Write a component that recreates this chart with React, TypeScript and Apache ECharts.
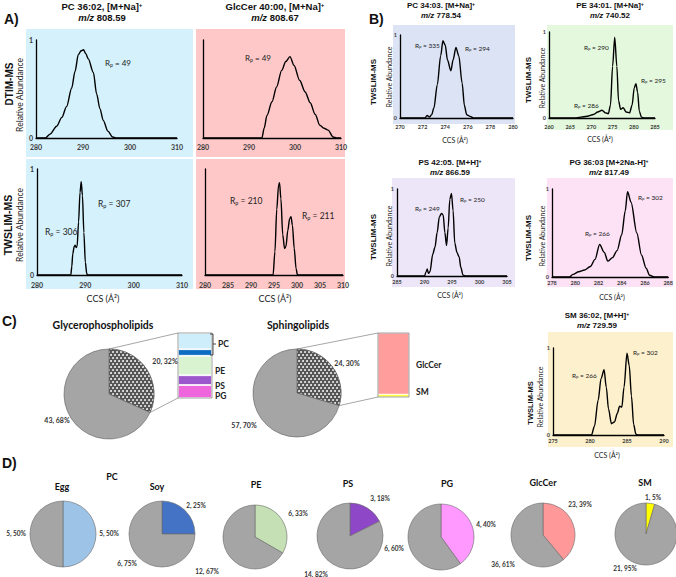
import { useEffect, useRef } from "react";
import * as echarts from "echarts";

type Pt = [number, number];

// ---------------- data ----------------
// Panel A (x = CCS Å², y = relative abundance)
const dtimPC: Pt[] = [[280,0],[282,0],[283,0.04],[284.4,0.12],[285.5,0.21],[286.5,0.32],[287.6,0.51],[288.3,0.68],[289,0.85],[289.6,0.89],[290.1,0.9],[290.6,0.86],[291.1,0.81],[292.2,0.67],[292.9,0.45],[293.6,0.3],[294.3,0.18],[295.3,0.07],[296.3,0.01],[297,0],[310,0]];
const dtimGlc: Pt[] = [[280,0],[292.8,0],[293.3,0.1],[293.9,0.23],[295,0.37],[296,0.52],[297.1,0.69],[298,0.78],[298.9,0.83],[299.8,0.74],[301,0.59],[302.2,0.47],[303.3,0.36],[304.4,0.24],[305.4,0.13],[306.3,0.1],[307.2,0.08],[308.3,0.01],[309,0],[310,0]];
const twPC: Pt[] = [[280,0],[287,0],[287.2,0.08],[287.4,0.2],[287.7,0.27],[287.9,0.28],[288.1,0.26],[288.3,0.27],[288.6,0.5],[288.9,0.78],[289.15,0.88],[289.4,0.75],[289.7,0.4],[290,0.12],[290.3,0.01],[290.6,0],[310,0]];
const twGlc: Pt[] = [[280,0],[294.8,0],[295.2,0.22],[295.6,0.62],[296,0.85],[296.2,0.87],[296.5,0.72],[296.9,0.38],[297.3,0.25],[297.6,0.27],[298,0.42],[298.4,0.53],[298.7,0.55],[299,0.47],[299.4,0.25],[299.8,0.06],[300.1,0],[310,0]];
// Panel B
const bPC: Pt[] = [[270,0],[272.2,0],[272.4,0.03],[272.6,0.01],[272.8,0.04],[273,0.12],[273.3,0.4],[273.6,0.75],[273.8,0.93],[274,0.88],[274.2,0.7],[274.5,0.57],[274.7,0.7],[274.95,0.85],[275.2,0.75],[275.5,0.42],[275.7,0.15],[275.9,0.04],[276.2,0.02],[276.5,0],[280,0]];
const bPE: Pt[] = [[260,0],[266,0],[267.5,0.01],[269,0.02],[270.5,0.04],[271.5,0.07],[272.5,0.09],[273.3,0.06],[274,0.05],[274.5,0.15],[275,0.6],[275.5,0.94],[276,0.6],[276.4,0.2],[276.9,0.1],[277.5,0.12],[278.2,0.07],[279,0.06],[279.6,0.15],[280.1,0.35],[280.5,0.4],[280.9,0.3],[281.3,0.08],[281.8,0.01],[282.5,0],[285,0]];
const bPS: Pt[] = [[285,0],[290,0],[290.3,0.05],[290.5,0.08],[290.7,0.03],[291,0.05],[291.5,0.25],[291.9,0.33],[292.3,0.5],[292.7,0.68],[293.1,0.72],[293.4,0.7],[293.7,0.5],[294,0.35],[294.3,0.55],[294.6,0.88],[294.9,0.95],[295.2,0.75],[295.5,0.38],[295.9,0.27],[296.3,0.22],[296.6,0.1],[297,0.01],[297.5,0],[305,0]];
const bPG: Pt[] = [[278,0],[279.5,0],[279.8,0.03],[280.3,0.06],[280.8,0.08],[281.3,0.12],[281.7,0.2],[282.1,0.37],[282.5,0.28],[282.8,0.18],[283.2,0.22],[283.6,0.3],[284,0.48],[284.3,0.75],[284.5,0.97],[284.8,0.85],[285.3,0.5],[285.7,0.25],[286.1,0.1],[286.4,0.02],[286.8,0],[288,0]];
const bSM: Pt[] = [[275,0],[280.2,0],[280.6,0.1],[281.1,0.4],[281.5,0.65],[281.9,0.75],[282.2,0.55],[282.5,0.3],[282.9,0.13],[283.3,0.15],[283.7,0.25],[284,0.33],[284.3,0.32],[284.6,0.55],[285,0.94],[285.3,0.8],[285.6,0.45],[285.9,0.12],[286.2,0.01],[286.5,0],[290,0]];

// axis ranges [min, max, step]
const ticksA = [280, 310, 10];
const ticksA4 = [280, 310, 5];
const ticksB1 = [270, 280, 2];
const ticksB2 = [260, 285, 5];
const ticksB3 = [285, 305, 5];
const ticksB4 = [278, 288, 2];
const ticksB5 = [275, 290, 5];

// titles
const ionTitles = ["PC 36:02, [M+Na]", "GlcCer 40:00, [M+Na]", "PC 34:03. [M+Na]", "PE 34:01. [M+Na]", "PS 42:05. [M+H]", "PG 36:03 [M+2Na-H]", "SM 36:02, [M+H]"];
const mzValues = ["808.59", "808.67", "778.54", "740.52", "866.59", "817.49", "729.59"];
const rpA = [[49], [49], [306, 307], [210, 211]];
const rpB = [[335, 294], [290, 295, 286], [249, 250], [266, 302], [266, 302]];

// Panel C
const cGroups = ["Glycerophospholipids", "Sphingolipids"];
const cSubset = [20, 24];
const cRest = [43, 57];
const gpBarNames = ["PG", "PS", "PE", "PC soy", "PC egg"];
const gpBarValues = [4, 3, 6, 2, 5];
const spBarNames = ["SM", "GlcCer"];
const spBarValues = [1, 23];

// Panel D
const dNames = ["Egg", "Soy", "PE", "PS", "PG", "GlcCer", "SM"];
const dFound = [5, 2, 6, 3, 4, 23, 1];
const dOther = [5, 6, 12, 14, 6, 36, 21];

// ---------------- helpers ----------------
const FT = "Liberation Sans";
const FC = "Lato";

function txt(x: number, y: number, text: string, o: any = {}) {
  const align = o.align ?? "center";
  const va = o.va ?? "middle";
  return {
    type: "text", x, y, rotation: o.rot ?? 0, z: 100, silent: true,
    style: {
      text, x: 0, y: 0, fill: o.fill ?? "#1e1e1e", fontSize: o.fs ?? 8,
      fontWeight: o.fw ?? "normal", fontFamily: o.ff ?? FC, fontStyle: o.it ? "italic" : "normal",
      align, verticalAlign: va, textAlign: align, textVerticalAlign: va, rich: o.rich,
    },
  };
}

function titleEls(cx: number, cy: number, i: number, fs: number, gap: number) {
  const base = { fontWeight: "bold", fontFamily: FT, fill: "#111" };
  return [
    txt(cx, cy, `{t|${ionTitles[i]}}{s|+}`, {
      rich: { t: { ...base, fontSize: fs }, s: { ...base, fontSize: fs * 0.65, verticalAlign: "top" } },
    }),
    txt(cx, cy + gap, `{i|m/z}{t| ${mzValues[i]}}`, {
      rich: { i: { ...base, fontSize: fs, fontStyle: "italic" }, t: { ...base, fontSize: fs } },
    }),
  ];
}

function rp(x: number, y: number, v: number, fs: number) {
  const b = { fontFamily: FC, fill: "#222" };
  return txt(x, y, `{r|R}{p|p}{r| = ${v}}`, {
    align: "left",
    rich: { r: { ...b, fontSize: fs }, p: { ...b, fontSize: fs * 0.65, verticalAlign: "bottom" } },
  });
}

function rect(x: number, y: number, w: number, h: number, fill: string) {
  return { type: "rect", z: -100, silent: true, shape: { x, y, width: w, height: h }, style: { fill } };
}

function line(x1: number, y1: number, x2: number, y2: number, stroke = "#808080", w = 0.7) {
  return { type: "line", z: 90, silent: true, shape: { x1, y1, x2, y2 }, style: { stroke, lineWidth: w } };
}

const pct = (v: number, t: number) => Math.round((v / t) * 100);

// ---------------- line panels ----------------
const linePanels = [
  { data: dtimPC, t: ticksA, g: [36, 40, 141, 98], yl: true, fs: 7, m: 5 },
  { data: dtimGlc, t: ticksA, g: [203, 40, 138, 98], yl: false, fs: 7, m: 5 },
  { data: twPC, t: ticksA, g: [37, 169, 145, 106], yl: true, fs: 7, m: 6 },
  { data: twGlc, t: ticksA4, g: [205, 169, 138, 106], yl: false, fs: 7, m: 6 },
  { data: bPC, t: ticksB1, g: [400, 35, 113, 83], yl: true, fs: 5.5, m: 6 },
  { data: bPE, t: ticksB2, g: [549, 32, 106, 86], yl: true, fs: 5.5, m: 6 },
  { data: bPS, t: ticksB3, g: [397, 189, 110, 87], yl: true, fs: 5.5, m: 3 },
  { data: bPG, t: ticksB4, g: [552, 189, 117, 88], yl: true, fs: 5.5, m: 3 },
  { data: bSM, t: ticksB5, g: [553, 348, 111, 87], yl: true, fs: 5.5, m: 3 },
];

const axisLine = { show: true, onZero: false, lineStyle: { color: "#000", width: 1.3 } };

const grids: any[] = linePanels.map((p) => ({ left: p.g[0], top: p.g[1], width: p.g[2], height: p.g[3], containLabel: false }));
const xAxes: any[] = linePanels.map((p, i) => ({
  type: "value", gridIndex: i, min: p.t[0], max: p.t[1], interval: p.t[2],
  axisLine, axisTick: { show: false }, splitLine: { show: false },
  axisLabel: { fontSize: p.fs, fontWeight: "bold", color: "#3c3c3c", fontFamily: FC, margin: p.m },
}));
const yAxes: any[] = linePanels.map((p, i) => ({
  type: "value", gridIndex: i, min: 0, max: 1, interval: 1,
  axisLine, axisTick: { show: false }, splitLine: { show: false },
  axisLabel: { show: p.yl, fontSize: p.fs, fontWeight: "bold", color: "#3c3c3c", fontFamily: FC, margin: 3 },
}));
const series: any[] = linePanels.map((p, i) => ({
  type: "line", xAxisIndex: i, yAxisIndex: i, data: p.data, showSymbol: false, symbol: "none",
  smooth: 0.3, smoothMonotone: "x", silent: true, lineStyle: { color: "#000", width: 1.4 }, z: 5,
}));

// ---------------- stacked bars (panel C) ----------------
const gpColors = ["#ef66dc", "#9c57cc", "#d9f2d0", "#0c6cc2", "#cdeefa"];
const spColors = ["#ffff33", "#ff9c9c"];
const barDefs = [
  { names: gpBarNames, vals: gpBarValues, colors: gpColors, g: [178, 333, 34, 65], bw: 0.8 },
  { names: spBarNames, vals: spBarValues, colors: spColors, g: [378, 333, 31, 64], bw: 0.5 },
];
barDefs.forEach((b, k) => {
  const gi = grids.length;
  grids.push({ left: b.g[0], top: b.g[1], width: b.g[2], height: b.g[3], containLabel: false });
  xAxes.push({ type: "category", gridIndex: gi, data: ["total"], show: false });
  yAxes.push({ type: "value", gridIndex: gi, min: 0, max: b.vals.reduce((s, v) => s + v, 0), show: false });
  b.vals.forEach((v, j) => {
    series.push({
      type: "bar", name: b.names[j], xAxisIndex: gi, yAxisIndex: gi, stack: "s" + k, barWidth: "100%",
      data: [v], silent: true, itemStyle: { color: b.colors[j], borderColor: "#ffffff", borderWidth: b.bw },
    });
  });
});

// ---------------- pies ----------------
const hatch = {
  symbol: "circle", symbolSize: 0.9, color: "#ffffff",
  dashArrayX: [[2, 2], [0, 2, 2, 0]], dashArrayY: [2, 1], rotation: 0,
};
const cPies = [
  { c: [109, 394], r: 45 },
  { c: [297, 393], r: 44 },
];
cPies.forEach((p, i) => {
  series.push({
    type: "pie", center: p.c, radius: p.r, startAngle: 90, clockwise: true, silent: true,
    label: { show: false }, labelLine: { show: false },
    itemStyle: { borderColor: "#5a5a5a", borderWidth: 0.6 },
    data: [
      { name: cGroups[i] + " subset", value: cSubset[i], itemStyle: { color: "#555555", decal: hatch } },
      { name: "other", value: cRest[i], itemStyle: { color: "#a5a5a5" } },
    ],
  });
});

const dColors = ["#9dc3e6", "#4472c4", "#c5e0b4", "#8e47c6", "#ff99ff", "#ff9999", "#ffff00"];
const dPies = [
  { c: [63, 534], r: 33 }, { c: [162, 534], r: 33 }, { c: [255, 537], r: 32 },
  { c: [350, 536], r: 33 }, { c: [441, 537], r: 33 }, { c: [543, 535], r: 32 }, { c: [646, 534], r: 31 },
];
dPies.forEach((p, i) => {
  series.push({
    type: "pie", center: p.c, radius: p.r, startAngle: 90, clockwise: true, silent: true,
    label: { show: false }, labelLine: { show: false },
    itemStyle: { borderColor: "#6a6a6a", borderWidth: 0.6 },
    data: [
      { name: dNames[i], value: dFound[i], itemStyle: { color: dColors[i] } },
      { name: "other", value: dOther[i], itemStyle: { color: "#a5a5a5" } },
    ],
  });
});

// ---------------- graphic ----------------
const G: any[] = [];
// backgrounds
G.push(rect(26, 29, 167, 128, "#d5f1fc"), rect(196, 29, 149, 128, "#ffc8c8"));
G.push(rect(26, 159, 167, 130, "#d5f1fc"), rect(196, 159, 149, 130, "#ffc8c8"));
G.push(rect(393, 25, 122, 99, "#dbe3f4"), rect(547, 25, 126, 105, "#e3f8dd"));
G.push(rect(392, 178, 123, 109, "#ece6f8"), rect(547, 178, 126, 109, "#fde1f5"));
G.push(rect(548, 332, 125, 115, "#fdf0cd"));

// panel letters
const letter = (x: number, y: number, s: string) => txt(x, y, s, { fs: 14, fw: "bold", ff: FT, align: "left", fill: "#111" });
G.push(letter(4, 19, "A)"), letter(369, 19, "B)"), letter(2, 321, "C)"), letter(2, 463, "D)"));

// titles
G.push(...titleEls(102, 6, 0, 9.5, 11), ...titleEls(275, 6, 1, 9.5, 11));
G.push(...titleEls(441, 5, 2, 8, 10), ...titleEls(610, 5, 3, 8, 10));
G.push(...titleEls(450, 162, 4, 8, 10), ...titleEls(609, 162, 5, 8, 10));
G.push(...titleEls(597, 315, 6, 8, 10));

// vertical axis titles
const R90 = Math.PI / 2;
const vBold = (x: number, y: number, s: string, fs: number) => txt(x, y, s, { rot: R90, fs, fw: "bold", ff: FT, fill: "#111" });
const vRA = (x: number, y: number, fs: number) => txt(x, y, "Relative Abundance", { rot: R90, fs, fill: "#222" });
G.push(vBold(9, 84, "DTIM-MS", 10), vRA(20, 95, 8.5));
G.push(vBold(8, 225, "TWSLIM-MS", 10.5), vRA(20, 225, 8.5));
G.push(vBold(373, 82, "TWSLIM-MS", 8), vRA(389, 77, 7));
G.push(vBold(528, 80, "TWSLIM-MS", 8), vRA(542, 78, 7));
G.push(vBold(373, 237, "TWSLIM-MS", 8), vRA(389, 236, 7));
G.push(vBold(528, 238, "TWSLIM-MS", 8), vRA(542, 236, 7));
G.push(vBold(530, 403, "TWSLIM-MS", 7.5), vRA(540, 397, 7));

// CCS labels
const ccs = (x: number, y: number, fs: number) => txt(x, y, "CCS (Å²)", { fs, fill: "#222" });
G.push(ccs(103, 298, 9), ccs(275, 298, 9));
G.push(ccs(455, 140, 7), ccs(600, 139, 7), ccs(450, 295, 7), ccs(612, 297, 7), ccs(607, 455, 7));

// Rp labels
G.push(rp(105, 63, rpA[0][0], 8), rp(245, 58, rpA[1][0], 8));
G.push(rp(45, 232, rpA[2][0], 8.5), rp(98, 204, rpA[2][1], 8.5));
G.push(rp(230, 201, rpA[3][0], 8.5), rp(302, 216, rpA[3][1], 8.5));
G.push(rp(415, 45, rpB[0][0], 6.5), rp(465, 48, rpB[0][1], 6.5));
G.push(rp(584, 47, rpB[1][0], 6.5), rp(641, 80, rpB[1][1], 6.5), rp(574, 105, rpB[1][2], 6.5));
G.push(rp(415, 208, rpB[2][0], 6.5), rp(460, 199, rpB[2][1], 6.5));
G.push(rp(585, 233, rpB[3][0], 6.5), rp(638, 197, rpB[3][1], 6.5));
G.push(rp(572, 375, rpB[4][0], 6.5), rp(633, 352, rpB[4][1], 6.5));

// Panel C texts
G.push(txt(103, 325, cGroups[0], { fs: 10.5, fw: "bold", fill: "#111" }));
G.push(txt(298, 325, cGroups[1], { fs: 10.5, fw: "bold", fill: "#111" }));
const cLblPos = [[[165, 361], [57, 420]], [[347, 363], [244, 425]]];
cPies.forEach((p, i) => {
  const tot = cSubset[i] + cRest[i];
  G.push(txt(cLblPos[i][0][0], cLblPos[i][0][1], `${cSubset[i]}, ${pct(cSubset[i], tot)}%`, { fs: 7, fw: "bold", fill: "#333" }));
  G.push(txt(cLblPos[i][1][0], cLblPos[i][1][1], `${cRest[i]}, ${pct(cRest[i], tot)}%`, { fs: 7, fw: "bold", fill: "#333" }));
  // connectors to bar
  const b = barDefs[i].g;
  const th = (2 * Math.PI * cSubset[i]) / tot;
  const [cx, cy] = p.c;
  G.push(line(cx, cy - p.r, b[0], b[1]));
  G.push(line(cx + p.r * Math.sin(th), cy - p.r * Math.cos(th), b[0], b[1] + b[3]));
  G.push({ type: "rect", z: 95, silent: true, shape: { x: b[0], y: b[1], width: b[2], height: b[3] }, style: { fill: "none", stroke: "#7a7a7a", lineWidth: 0.7 } });
});
// bar labels
const bl = (x: number, y: number, s: string) => txt(x, y, s, { fs: 8.5, fw: "bold", align: "left", fill: "#222" });
G.push(bl(218, 344, "PC"), bl(215, 371, "PE"), bl(215, 386, "PS"), bl(215, 396, "PG"));
G.push(bl(416, 365, "GlcCer"), bl(416, 392, "SM"));
G.push({ type: "polyline", z: 95, silent: true, shape: { points: [[210, 334], [213, 334], [213, 355], [210, 355]] }, style: { stroke: "#222", lineWidth: 0.8, fill: "none" } });
G.push(line(213, 344, 216, 344, "#222", 0.8));

// Panel D texts
G.push(txt(112, 476, "PC", { fs: 9, fw: "bold", fill: "#111" }));
const dTitlePos = [[62, 486], [157, 486], [256, 484], [348, 483], [447, 483], [543, 482], [645, 482]];
const dLblPos = [
  [[109, 533], [16, 533]], [[196, 505], [127, 563]], [[298, 513], [207, 571]],
  [[380, 498], [316, 574]], [[486, 524], [394, 548]], [[580, 504], [503, 564]], [[653, 497], [625, 568]],
];
dNames.forEach((n, i) => {
  const tot = dFound[i] + dOther[i];
  G.push(txt(dTitlePos[i][0], dTitlePos[i][1], n, { fs: 9, fw: "bold", fill: "#111" }));
  G.push(txt(dLblPos[i][0][0], dLblPos[i][0][1], `${dFound[i]}, ${pct(dFound[i], tot)}%`, { fs: 6.5, fw: "bold", fill: "#333" }));
  G.push(txt(dLblPos[i][1][0], dLblPos[i][1][1], `${dOther[i]}, ${pct(dOther[i], tot)}%`, { fs: 6.5, fw: "bold", fill: "#333" }));
});

const option: any = {
  animation: false,
  backgroundColor: "#ffffff",
  textStyle: { fontFamily: FC },
  grid: grids,
  xAxis: xAxes,
  yAxis: yAxes,
  series,
  graphic: { elements: G },
};

export default function App() {
  const ref = useRef<HTMLDivElement>(null);
  useEffect(() => {
    const chart = echarts.init(ref.current!, null, { renderer: "svg" });
    chart.setOption(option);
    return () => chart.dispose();
  }, []);
  return <div ref={ref} style={{ position: "absolute", left: 0, top: 0, width: 676, height: 577 }} />;
}
